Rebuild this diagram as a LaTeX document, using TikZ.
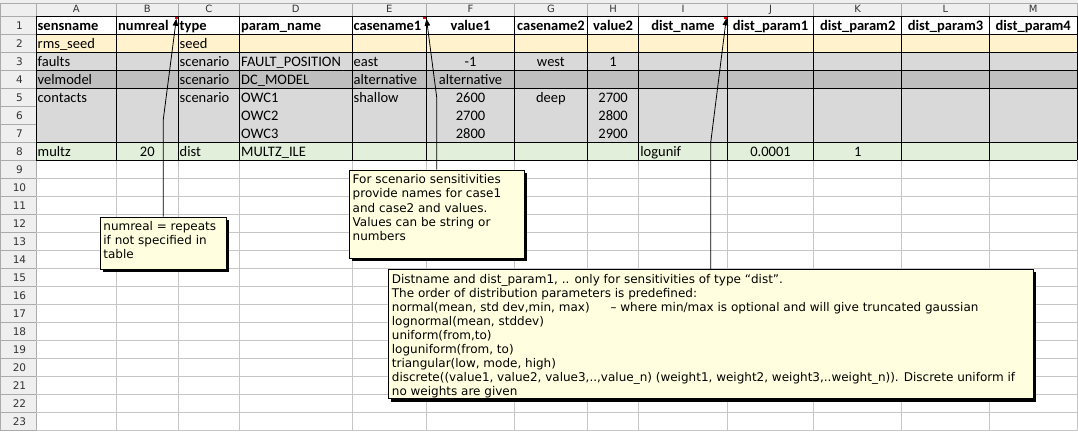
\documentclass[tikz,border=0pt]{standalone}
\usepackage{fontspec}
\setmainfont{Carlito}
\newfontfamily\dvfont{DejaVu Sans}
\usetikzlibrary{arrows.meta,shadows}
\definecolor{peach}{HTML}{FFF2CC}
\definecolor{lgray}{HTML}{D9D9D9}
\definecolor{dgray}{HTML}{BFBFBF}
\definecolor{lgreen}{HTML}{E2EFDA}
\definecolor{notefill}{HTML}{FFFFE0}
\definecolor{gridc}{HTML}{C6C6C6}
\definecolor{hdrbg}{HTML}{EFEFEF}
\definecolor{hdrline}{HTML}{ABABAB}
\definecolor{hdrtext}{HTML}{333333}
\def\xA{36}\def\xB{116.5}\def\xC{178}\def\xD{239.5}\def\xE{352}\def\xF{426.7}\def\xG{514.3}
\def\xH{587.5}\def\xI{638.7}\def\xJ{727.3}\def\xK{813.7}\def\xL{901.7}\def\xM{989.3}\def\xN{1077}
\newcommand\cellL[4]{\node[ctext,anchor=base west] (#1) at ({#2+1.5},{12.3+18*#3}) {#4};}
\newcommand\cellC[5]{\node[ctext,anchor=base] (#1) at ({(#2+#3)/2},{12.3+18*#4}) {#5};}
\begin{document}
\begin{tikzpicture}[x=1pt,y=-1pt,
  ctext/.style={inner sep=0pt,font=\fontsize{14.5}{17}\selectfont},
  hdrcell/.style={inner sep=0pt,text=hdrtext,font=\dvfont\fontsize{10}{12}\selectfont,anchor=base},
  gridline/.style={draw=gridc,line width=0.8pt},
  hdrsep/.style={draw=hdrline,line width=0.8pt},
  tabline/.style={draw=black,line width=0.9pt},
  notebox/.style={draw=black,line width=0.8pt,fill=notefill,inner xsep=3.5pt,inner ysep=0pt,anchor=north west,
     drop shadow={shadow xshift=3pt,shadow yshift=-3pt,opacity=1,fill=black},
     font=\dvfont\fontsize{12}{14.1}\selectfont},
  conn/.style={draw=black,line width=0.8pt,-{Triangle[length=7pt,width=5.5pt]}},
  marker/.style={fill=red}]
\useasboundingbox (0,0) rectangle (1078,431);
\fill[white] (0,0) rectangle (1078,431);
% header strips
\fill[hdrbg] (0,0) rectangle (1078,16.3);
\fill[hdrbg] (0,16.3) rectangle (\xA,431);
\draw[hdrsep] (0,3) -- (1078,3);
\draw[hdrsep] (0,16.3) -- (1078,16.3);
\foreach \x in {\xA,\xB,\xC,\xD,\xE,\xF,\xG,\xH,\xI,\xJ,\xK,\xL,\xM,\xN}
  \draw[hdrsep] (\x,3) -- (\x,16.3);
\foreach \k in {2,...,24}
  \draw[hdrsep] (0,{-1.7+18*\k}) -- (\xA,{-1.7+18*\k});
\draw[hdrsep] (\xA,16.3) -- (\xA,431);
\draw[hdrsep] (0.5,3) -- (0.5,431);
% row fills
\fill[peach] (\xA,34.3) rectangle (\xN,52.3);
\fill[lgray] (\xA,52.3) rectangle (\xN,70.3);
\fill[dgray] (\xA,70.3) rectangle (\xN,88.3);
\fill[lgray] (\xA,88.3) rectangle (\xN,142.3);
\fill[lgreen] (\xA,142.3) rectangle (\xN,160.3);
% empty grid
\foreach \k in {10,...,24}
  \draw[gridline] (\xA,{-1.7+18*\k}) -- (\xN,{-1.7+18*\k});
\foreach \x in {\xB,\xC,\xD,\xE,\xF,\xG,\xH,\xI,\xJ,\xK,\xL,\xM,\xN}
  \draw[gridline] (\x,160.3) -- (\x,431);
% table borders
\foreach \k in {1,2,3,4,5,8,9}
  \draw[tabline] (\xA,{-1.7+18*\k}) -- (\xN,{-1.7+18*\k});
\foreach \x in {\xA,\xB,\xC,\xD,\xE,\xF,\xG,\xI,\xJ,\xK,\xL,\xM,\xN}
  \draw[tabline] (\x,16.3) -- (\x,160.3);
\draw[tabline,line width=1.7pt] (\xH,16.3) -- (\xH,160.3);
% column letters
\foreach \n/\a/\b in {A/\xA/\xB,B/\xB/\xC,C/\xC/\xD,D/\xD/\xE,E/\xE/\xF,F/\xF/\xG,G/\xG/\xH,H/\xH/\xI,I/\xI/\xJ,J/\xJ/\xK,K/\xK/\xL,L/\xL/\xM,M/\xM/\xN}
  \node[hdrcell] (col\n) at ({(\a+\b)/2},12.8) {\n};
% row numbers
\foreach \k in {1,...,23}
  \node[hdrcell,font=\dvfont\fontsize{10.5}{12}\selectfont] (row\k) at (19.5,{11.3+18*\k}) {\k};
% row 1 headers
\cellL{A1}{\xA}{1}{\bfseries sensname}
\cellL{B1}{\xB}{1}{\bfseries numreal}
\cellL{C1}{\xC}{1}{\bfseries type}
\cellL{D1}{\xD}{1}{\bfseries param\_name}
\cellL{E1}{\xE}{1}{\bfseries casename1}
\cellC{F1}{\xF}{\xG}{1}{\bfseries value1}
\cellC{G1}{\xG}{\xH}{1}{\bfseries casename2}
\cellC{H1}{\xH}{\xI}{1}{\bfseries value2}
\cellC{I1}{\xI}{\xJ}{1}{\bfseries dist\_name}
\cellC{J1}{\xJ}{\xK}{1}{\bfseries dist\_param1}
\cellC{K1}{\xK}{\xL}{1}{\bfseries dist\_param2}
\cellC{L1}{\xL}{\xM}{1}{\bfseries dist\_param3}
\cellC{M1}{\xM}{\xN}{1}{\bfseries dist\_param4}
% row 2
\cellL{A2}{\xA}{2}{rms\_seed}
\cellL{C2}{\xC}{2}{seed}
% row 3
\cellL{A3}{\xA}{3}{faults}
\cellL{C3}{\xC}{3}{scenario}
\cellL{D3}{\xD}{3}{FAULT\_POSITION}
\cellL{E3}{\xE}{3}{east}
\cellC{F3}{\xF}{\xG}{3}{-1}
\cellC{G3}{\xG}{\xH}{3}{west}
\cellC{H3}{\xH}{\xI}{3}{1}
% row 4
\cellL{A4}{\xA}{4}{velmodel}
\cellL{C4}{\xC}{4}{scenario}
\cellL{D4}{\xD}{4}{DC\_MODEL}
\cellL{E4}{\xE}{4}{alternative}
\cellC{F4}{\xF}{\xG}{4}{alternative}
% rows 5-7
\cellL{A5}{\xA}{5}{contacts}
\cellL{C5}{\xC}{5}{scenario}
\cellL{D5}{\xD}{5}{OWC1}
\cellL{E5}{\xE}{5}{shallow}
\cellC{F5}{\xF}{\xG}{5}{2600}
\cellC{G5}{\xG}{\xH}{5}{deep}
\cellC{H5}{\xH}{\xI}{5}{2700}
\cellL{D6}{\xD}{6}{OWC2}
\cellC{F6}{\xF}{\xG}{6}{2700}
\cellC{H6}{\xH}{\xI}{6}{2800}
\cellL{D7}{\xD}{7}{OWC3}
\cellC{F7}{\xF}{\xG}{7}{2800}
\cellC{H7}{\xH}{\xI}{7}{2900}
% row 8
\cellL{A8}{\xA}{8}{multz}
\cellC{B8}{\xB}{\xC}{8}{20}
\cellL{C8}{\xC}{8}{dist}
\cellL{D8}{\xD}{8}{MULTZ\_ILE}
\cellL{I8}{\xI}{8}{logunif}
\cellC{J8}{\xJ}{\xK}{8}{0.0001}
\cellC{K8}{\xK}{\xL}{8}{1}
% comment markers
\fill[marker] (174.7,16.5) rectangle (177.7,19.3);
\fill[marker] (423.3,16.5) rectangle (426.3,19.3);
\fill[marker] (724.2,16.5) rectangle (727.2,19.3);
% comment boxes
\node[notebox] (numbox) at (99.5,216.5)
  {\parbox[t][52.3pt][t]{119.5pt}{\rule{0pt}{13.5pt}numreal = repeats\\if not specified in\\table}};
\node[notebox] (scenbox) at (348.8,169.6)
  {\parbox[t][88.4pt][t]{168.2pt}{\rule{0pt}{13.8pt}For scenario sensitivities\\provide names for case1\\and case2 and values.\\Values can be string or\\numbers}};
\node[notebox,font=\dvfont\fontsize{12}{14}\selectfont] (distbox) at (388,269)
  {\parbox[t][129.3pt][t]{637.7pt}{\rule{0pt}{13.8pt}Distname and dist\_param1, .. only for sensitivities of type “dist”.\\
  The order of distribution parameters is predefined:\\
  normal(mean, std dev,min, max)\hspace*{17pt} – where min/max is optional and will give truncated gaussian\\
  lognormal(mean, stddev)\\
  uniform(from,to)\\
  loguniform(from, to)\\
  triangular(low, mode, high)\\
  discrete((value1, value2, value3,..,value\_n) (weight1, weight2, weight3,..weight\_n)). Discrete uniform if\\
  no weights are given}};
% connectors
\coordinate (tipB) at (176.3,18.8);
\coordinate (tipE) at (426.5,18.8);
\coordinate (tipI) at (726.3,18.3);
\coordinate (bendB) at (163.6,120.5);
\coordinate (bendE) at (437,98);
\coordinate (bendI) at (710.5,142.3);
\draw[conn] (numbox.north) -- (numbox.north |- bendB) -- (tipB);
\draw[conn] (scenbox.north) -- (scenbox.north |- bendE) -- (tipE);
\draw[conn] (distbox.north) -- (distbox.north |- bendI) -- (tipI);
\end{tikzpicture}
\end{document}
